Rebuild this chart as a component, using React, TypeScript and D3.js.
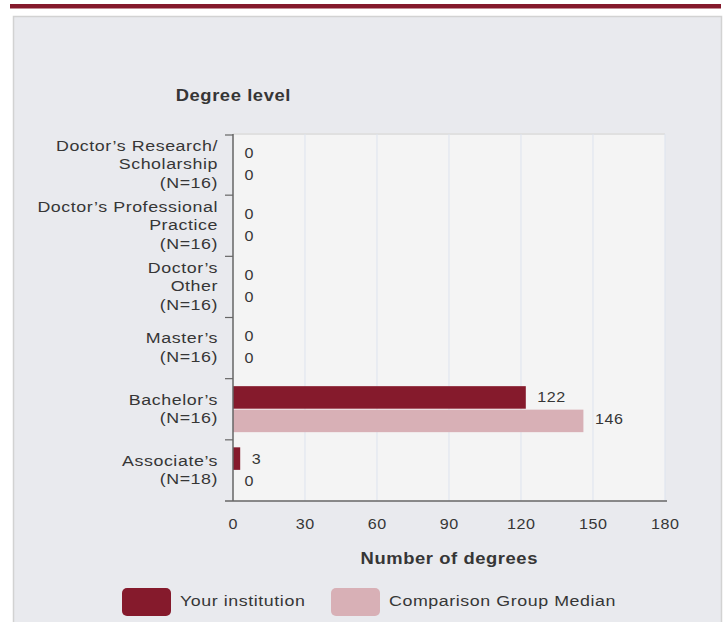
import React from "react";
import * as d3 from "d3";

const categoryKeys = ["research", "professional", "other", "masters", "bachelors", "associates"];
const categoryLabels = [
  ["Doctor’s Research/", "Scholarship", "(N=16)"],
  ["Doctor’s Professional", "Practice", "(N=16)"],
  ["Doctor’s", "Other", "(N=16)"],
  ["Master’s", "(N=16)"],
  ["Bachelor’s", "(N=16)"],
  ["Associate’s", "(N=18)"],
];
const institutionValues = [0, 0, 0, 0, 122, 3];
const comparisonValues = [0, 0, 0, 0, 146, 0];
const seriesKeys = ["institution", "comparison"];
const seriesNames = ["Your institution", "Comparison Group Median"];
const xTicks = [0, 30, 60, 90, 120, 150, 180];

const COLORS = ["#851a2c", "#d8b0b6"];
const FONT = "'Liberation Sans', Arial, Helvetica, sans-serif";
const TEXT = "#363636";
const SX = 1.15;
const LS = 0.5;

function T({ x, y, anchor = "start", size = 14, weight = "normal", children }: any) {
  const dx = anchor === "end" ? LS : anchor === "middle" ? LS / 2 : 0;
  return (
    <g transform={`translate(${x},${y}) scale(${SX},1)`}>
      <text
        x={dx}
        y={0}
        textAnchor={anchor}
        fontSize={size}
        fontWeight={weight}
        fontFamily={FONT}
        letterSpacing={LS}
        fill={TEXT}
      >
        {children}
      </text>
    </g>
  );
}

export default function App() {
  const left = 233, right = 665, top = 134, bottom = 501;
  const x = d3.scaleLinear().domain([0, 180]).range([left, right]);
  const y = d3.scaleBand<string>().domain(categoryKeys).range([top, bottom]);
  const sub = d3.scaleBand<string>().domain(seriesKeys).range([7.5, 53.5]).paddingInner(0.04);
  const series = [institutionValues, comparisonValues];
  const lineH = 18.5;

  return (
    <svg width={726} height={622} style={{ position: "absolute", left: 0, top: 0, background: "#ffffff" }}>
      {/* top accent bar */}
      <rect x={10} y={4} width={711} height={4.5} fill="#851a2c" />
      {/* panel */}
      <rect x={13.5} y={16.5} width={708} height={620} fill="#e9eaee" stroke="#d2d2d2" strokeWidth={1.5} />

      {/* plot area */}
      <rect x={left} y={top} width={right - left} height={bottom - top} fill="#f4f4f4" />
      <line x1={left} x2={right} y1={top} y2={top} stroke="#e0e0e0" strokeWidth={2} />
      {xTicks.slice(1).map((t) => (
        <line key={t} x1={x(t)} x2={x(t)} y1={top} y2={bottom} stroke="#dde3ee" strokeWidth={1} />
      ))}

      {/* bars */}
      {categoryKeys.map((k, i) => (
        <g key={k}>
          {series.map((vals, s) => {
            const by = (y(k) as number) + (sub(seriesKeys[s]) as number);
            const bw = sub.bandwidth();
            return (
              <g key={s}>
                {vals[i] > 0 && (
                  <rect x={x(0)} y={by} width={x(vals[i]) - x(0)} height={bw} fill={COLORS[s]} />
                )}
                <T x={x(vals[i]) + 11.5} y={by + bw / 2 + 5 - s * 1.5} size={14}>
                  {String(vals[i])}
                </T>
              </g>
            );
          })}
        </g>
      ))}

      {/* axes */}
      <line x1={left} x2={left} y1={top} y2={bottom} stroke="#666" strokeWidth={1.5} />
      <line x1={left - 8} x2={right + 2} y1={bottom} y2={bottom} stroke="#666" strokeWidth={1.5} />
      {categoryKeys.map((k, i) => {
        const ty = (y(k) as number) + (i === 0 ? 1 : 0);
        return <line key={k} x1={left - 8} x2={left} y1={ty} y2={ty} stroke="#666" strokeWidth={1.2} />;
      })}

      {/* y labels */}
      {categoryKeys.map((k, i) => {
        const lines = categoryLabels[i];
        const cy = (y(k) as number) + y.bandwidth() / 2 - 1;
        const start = cy - ((lines.length - 1) * lineH) / 2;
        return (
          <g key={k}>
            {lines.map((ln, j) => (
              <T key={j} x={217.5} y={start + j * lineH + 5.5} anchor="end" size={15.5}>
                {ln}
              </T>
            ))}
          </g>
        );
      })}

      {/* x tick labels */}
      {xTicks.map((t) => (
        <T key={t} x={x(t)} y={bottom + 27.5} anchor="middle" size={14}>
          {String(t)}
        </T>
      ))}

      {/* titles */}
      <T x={233} y={101} anchor="middle" size={16} weight="bold">Degree level</T>
      <T x={(left + right) / 2} y={564} anchor="middle" size={16} weight="bold">Number of degrees</T>

      {/* legend */}
      {seriesNames.map((name, s) => {
        const lx = [122, 331][s];
        return (
          <g key={name}>
            <rect x={lx} y={588} width={49} height={28} rx={5} fill={COLORS[s]} />
            <T x={lx + 58} y={606} size={15.5}>{name}</T>
          </g>
        );
      })}
    </svg>
  );
}
